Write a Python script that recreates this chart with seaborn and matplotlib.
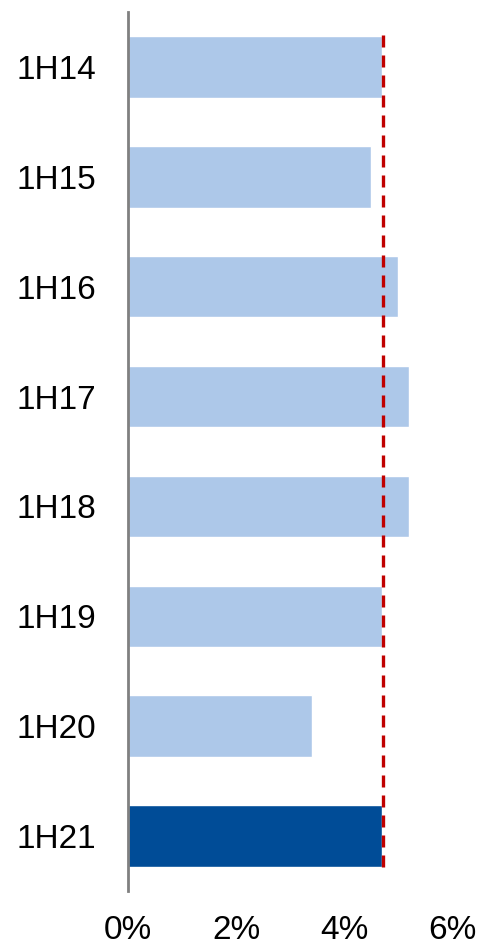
import matplotlib
matplotlib.use("Agg")
import matplotlib.pyplot as plt
import seaborn as sns

periods = ["1H14", "1H15", "1H16", "1H17", "1H18", "1H19", "1H20", "1H21"]
values = [4.70, 4.50, 5.00, 5.20, 5.20, 4.70, 3.40, 4.70]
average = 4.73
xticks = [0, 2, 4, 6]

light_blue = "#ADC8E9"
dark_blue = "#004C97"
colors = [light_blue] * 7 + [dark_blue]

sns.set_style("white")
plt.rcParams["font.family"] = ["Liberation Sans", "DejaVu Sans"]

fig = plt.figure(figsize=(4.79, 9.49), dpi=100)
ax = fig.add_axes([128 / 479, 1 - 891 / 949, (452 - 128) / 479, (891 - 12) / 949])

bar_w = 0.56
sns.barplot(x=values, y=periods, hue=periods, palette=colors, legend=False,
            orient="h", width=bar_w, saturation=1, ax=ax)

# average reference line
ax.vlines(average, -bar_w / 2 - 0.01, len(periods) - 1 + bar_w / 2 + 0.03,
          colors="#C00000", linewidth=2.4, linestyles=(0, (3.6, 2.4)), zorder=3)

ax.set_xlim(0, 6)
ax.set_ylim(len(periods) - 0.5, -0.5)
ax.set_xticks(xticks)
ax.set_xticklabels([f"{t}%" for t in xticks])
ax.set_xlabel("")
ax.set_ylabel("")

for s in ["top", "right", "bottom"]:
    ax.spines[s].set_visible(False)
ax.spines["left"].set_color("#808080")
ax.spines["left"].set_linewidth(2)

ax.tick_params(axis="y", length=0, pad=23, labelsize=24, labelcolor="black")
ax.tick_params(axis="x", length=0, pad=17, labelsize=24, labelcolor="black")

fig.savefig("out.png", dpi=100)
